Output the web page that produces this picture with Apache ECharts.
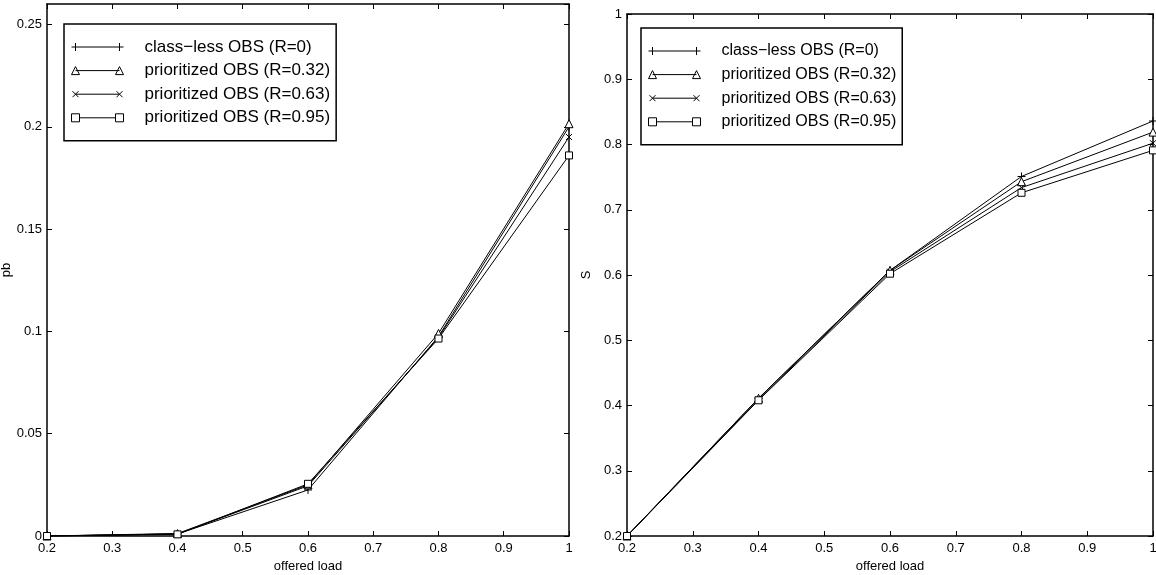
<!DOCTYPE html>
<html><head><meta charset="utf-8">
<script src="https://cdn.jsdelivr.net/npm/echarts@6/dist/echarts.min.js"></script>
<style>html,body{margin:0;padding:0;background:#fff}#c{width:1156px;height:575px}</style>
</head><body><div id="c"></div>
<script>
const loads = [0.2, 0.4, 0.6, 0.8, 1.0];
const names = ['class\u2212less OBS (R=0)', 'prioritized OBS (R=0.32)', 'prioritized OBS (R=0.63)', 'prioritized OBS (R=0.95)'];
const pb_R0   = [0, 0.0010, 0.0225, 0.0975, 0.2000];
const pb_R032 = [0, 0.0012, 0.0250, 0.0990, 0.2015];
const pb_R063 = [0, 0.0010, 0.0245, 0.0970, 0.1950];
const pb_R095 = [0, 0.0008, 0.0255, 0.0965, 0.1860];
const S_R0   = [0.2, 0.411, 0.607, 0.751, 0.836];
const S_R032 = [0.2, 0.411, 0.607, 0.743, 0.819];
const S_R063 = [0.2, 0.409, 0.605, 0.734, 0.802];
const S_R095 = [0.2, 0.408, 0.602, 0.726, 0.791];
const xTicks = [0.2, 0.3, 0.4, 0.5, 0.6, 0.7, 0.8, 0.9, 1];

const FONT = "'Liberation Sans', Arial, Helvetica, sans-serif";
const markers = ['path://M0,4L8,4M4,0L4,8', 'triangle', 'path://M0,0L8,8M8,0L0,8', 'rect'];
const markerSizes = [8, 8, 6, 7];
const legendIcons = [
  'path://M0,4L52,4M4,0L4,8M48,0L48,8',
  'path://M4,4L48,4M4,0L8,8L0,8ZM48,0L52,8L44,8Z',
  'path://M4,4L48,4M1,1L7,7M7,1L1,7M45,1L51,7M51,1L45,7M0,4L0,4M52,4L52,4',
  'path://M0,0L8,0L8,8L0,8ZM8,4L44,4M44,0L52,0L52,8L44,8Z'
];

const pbSets = [pb_R0, pb_R032, pb_R063, pb_R095];
const sSets = [S_R0, S_R032, S_R063, S_R095];

function pairs(ys) { return loads.map((x, i) => [x, ys[i]]); }

const axisLine = { show: true, onZero: false, lineStyle: { color: '#000', width: 1.5 } };
const tick = { show: true, inside: true, length: 5, lineStyle: { color: '#000', width: 1 } };
const lab = { color: '#000', fontFamily: FONT, fontSize: 13 };

function xAx(grid, pos, show) {
  return {
    type: 'value', gridIndex: grid, position: pos, min: 0.2, max: 1, interval: 0.1,
    axisLine: axisLine, axisTick: tick, splitLine: { show: false },
    axisLabel: Object.assign({ show: show, margin: 6 }, lab),
    name: show ? 'offered load' : '', nameLocation: 'middle', nameGap: 22,
    nameTextStyle: { color: '#000', fontFamily: FONT, fontSize: 13 }
  };
}
function yAx(grid, pos, show, min, max, interval, name, gap) {
  return {
    type: 'value', gridIndex: grid, position: pos, min: min, max: max, interval: interval,
    axisLine: axisLine, axisTick: tick, splitLine: { show: false },
    axisLabel: Object.assign({ show: show, margin: 5, showMaxLabel: max === 1,
      formatter: v => String(+v.toFixed(4)) }, lab),
    name: show ? name : '', nameLocation: 'middle', nameGap: gap,
    nameTextStyle: { color: '#000', fontFamily: FONT, fontSize: 13 }
  };
}

const series = [];
pbSets.forEach((d, i) => series.push({
  type: 'line', name: names[i], xAxisIndex: 0, yAxisIndex: 0, data: pairs(d),
  symbol: markers[i], symbolSize: markerSizes[i], showAllSymbol: true,
  lineStyle: { color: '#000', width: 1 },
  itemStyle: { color: '#fff', borderColor: '#000', borderWidth: 1 }
}));
sSets.forEach((d, i) => series.push({
  type: 'line', name: names[i], xAxisIndex: 2, yAxisIndex: 2, data: pairs(d),
  symbol: markers[i], symbolSize: markerSizes[i], showAllSymbol: true,
  lineStyle: { color: '#000', width: 1 },
  itemStyle: { color: '#fff', borderColor: '#000', borderWidth: 1 }
}));

function legend(left, top, fs) {
  return {
    orient: 'vertical', left: left, top: top, selectedMode: false,
    data: names.map((n, i) => ({ name: n, icon: legendIcons[i] })),
    itemWidth: 52, itemHeight: 8, itemGap: 3.6,
    borderColor: '#000', borderWidth: 1.5, padding: [13, 6, 13, 7],
    itemStyle: { color: '#fff', borderColor: '#000', borderWidth: 1 },
    textStyle: { color: '#000', fontFamily: FONT, fontSize: fs, lineHeight: 20, padding: [0, 0, 0, 16] }
  };
}

const chart = echarts.init(document.getElementById('c'), null, { renderer: 'canvas' });
chart.setOption({
  animation: false,
  backgroundColor: '#fff',
  grid: [
    { left: 47, top: 4, width: 522, height: 532, outerBoundsMode: 'none', containLabel: false },
    { left: 627, top: 14, width: 526, height: 522, outerBoundsMode: 'none', containLabel: false }
  ],
  xAxis: [xAx(0, 'bottom', true), xAx(0, 'top', false), xAx(1, 'bottom', true), xAx(1, 'top', false)],
  yAxis: [
    yAx(0, 'left', true, 0, 0.26, 0.05, 'pb', 33),
    yAx(0, 'right', false, 0, 0.26, 0.05, '', 0),
    yAx(1, 'left', true, 0.2, 1, 0.1, 'S', 34),
    yAx(1, 'right', false, 0.2, 1, 0.1, '', 0)
  ],
  legend: [legend(64, 24, 17), legend(641, 28, 16)],
  series: series
});
</script></body></html>
